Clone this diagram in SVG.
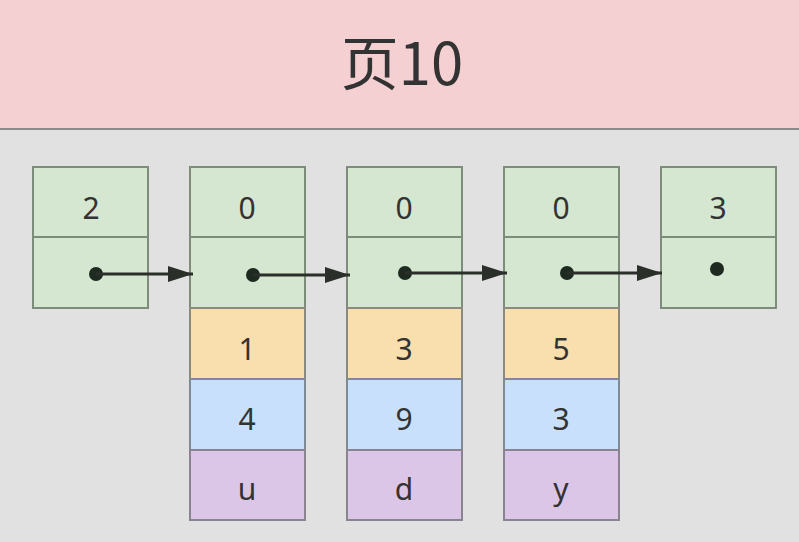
<svg xmlns="http://www.w3.org/2000/svg" width="799" height="542" viewBox="0 0 799 542">
<defs>
<style>
.bg{fill:#e1e1e1}
.hdr{fill:#f5d0d2}
.g{fill:#d5e6d1;stroke:#7d8c7b;stroke-width:2}
.o{fill:#fadfae;stroke:#8a8a80;stroke-width:2}
.b{fill:#c8e0fb;stroke:#7f8a92;stroke-width:2}
.p{fill:#dcc6e8;stroke:#8a8390;stroke-width:2}
.t{font-family:"Noto Sans","Liberation Sans",sans-serif;font-size:30px;fill:#333;text-anchor:middle;dominant-baseline:central}
.title{font-family:"Noto Sans CJK SC","Noto Sans",sans-serif;font-size:58px;fill:#333;text-anchor:middle}
.dot{fill:#1e2a20}
.ln{stroke:#2a2f2a;stroke-width:3;fill:none}
</style>
<marker id="ah" viewBox="0 0 10 10" refX="10" refY="5" markerWidth="25" markerHeight="16" preserveAspectRatio="none" markerUnits="userSpaceOnUse" orient="auto" overflow="visible">
<path d="M0,0 L10,5 L0,10 z" fill="#2a2f2a"/>
</marker>
</defs>
<rect class="bg" x="0" y="0" width="799" height="542"/>
<g id="header">
<rect class="hdr" x="0" y="0" width="799" height="129"/>
<line x1="0" y1="129" x2="799" y2="129" stroke="#8a8a8a" stroke-width="2"/>
<text class="title" x="402" y="85">页10</text>
</g>
<g id="node1">
<rect class="g" x="33" y="167" width="115" height="70"/>
<rect class="g" x="33" y="237" width="115" height="71"/>
<text class="t" x="91" y="207">2</text>
<circle class="dot" cx="96" cy="274" r="7"/>
</g>
<g id="node2">
<rect class="g" x="190" y="167" width="115" height="70"/>
<rect class="g" x="190" y="237" width="115" height="71"/>
<rect class="o" x="190" y="308" width="115" height="71"/>
<rect class="b" x="190" y="379" width="115" height="71"/>
<rect class="p" x="190" y="450" width="115" height="70"/>
<text class="t" x="247" y="207">0</text>
<circle class="dot" cx="253" cy="275" r="7"/>
<text class="t" x="247" y="348">1</text>
<text class="t" x="247" y="418">4</text>
<text class="t" x="247" y="488">u</text>
</g>
<g id="node3">
<rect class="g" x="347" y="167" width="115" height="70"/>
<rect class="g" x="347" y="237" width="115" height="71"/>
<rect class="o" x="347" y="308" width="115" height="71"/>
<rect class="b" x="347" y="379" width="115" height="71"/>
<rect class="p" x="347" y="450" width="115" height="70"/>
<text class="t" x="404" y="207">0</text>
<circle class="dot" cx="405" cy="273" r="7"/>
<text class="t" x="404" y="348">3</text>
<text class="t" x="404" y="418">9</text>
<text class="t" x="404" y="488">d</text>
</g>
<g id="node4">
<rect class="g" x="504" y="167" width="115" height="70"/>
<rect class="g" x="504" y="237" width="115" height="71"/>
<rect class="o" x="504" y="308" width="115" height="71"/>
<rect class="b" x="504" y="379" width="115" height="71"/>
<rect class="p" x="504" y="450" width="115" height="70"/>
<text class="t" x="561" y="207">0</text>
<circle class="dot" cx="567" cy="273" r="7"/>
<text class="t" x="561" y="348">5</text>
<text class="t" x="561" y="418">3</text>
<text class="t" x="561" y="488">y</text>
</g>
<g id="node5">
<rect class="g" x="661" y="167" width="115" height="70"/>
<rect class="g" x="661" y="237" width="115" height="71"/>
<text class="t" x="718" y="207">3</text>
<circle class="dot" cx="717" cy="269" r="7"/>
</g>
<g id="connectors">
<line class="ln" x1="96" y1="274" x2="193" y2="274" marker-end="url(#ah)"/>
<line class="ln" x1="253" y1="275" x2="350" y2="275" marker-end="url(#ah)"/>
<line class="ln" x1="405" y1="273" x2="507" y2="273" marker-end="url(#ah)"/>
<line class="ln" x1="567" y1="273" x2="662" y2="273" marker-end="url(#ah)"/>
</g>
</svg>
